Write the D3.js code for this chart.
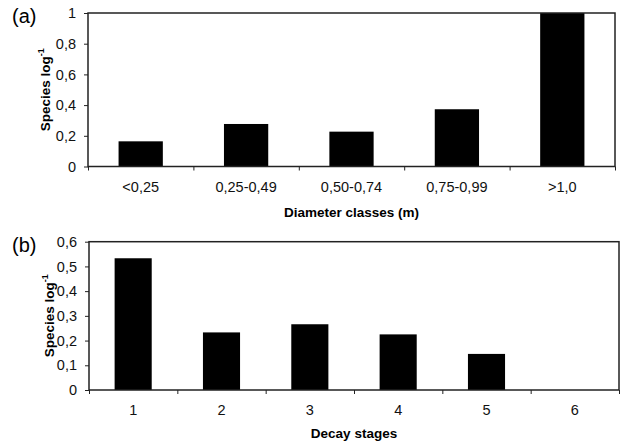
<!DOCTYPE html>
<html>
<head>
<meta charset="utf-8">
<script src="https://cdn.jsdelivr.net/npm/d3@7"></script>
<style>
  body { margin: 0; background: #fff; }
  svg { display: block; font-family: "Liberation Sans", Arial, sans-serif; }
  .tick text { font-size: 14.5px; fill: #111; }
  .domain { display: none; }
  .tick line { stroke: #222; stroke-width: 1; }
</style>
</head>
<body>
<script>
// panel (a): species per log by diameter class
const diamClasses = ["<0,25", "0,25-0,49", "0,50-0,74", "0,75-0,99", ">1,0"];
const diamValues = [0.164, 0.277, 0.227, 0.373, 1.0];
const diamTicks = [0, 0.2, 0.4, 0.6, 0.8, 1];

// panel (b): species per log by decay stage
const decayStages = ["1", "2", "3", "4", "5", "6"];
const decayValues = [0.533, 0.233, 0.266, 0.225, 0.146, 0];
const decayTicks = [0, 0.1, 0.2, 0.3, 0.4, 0.5, 0.6];

const W = 621, H = 443;
const svg = d3.select("body").append("svg").attr("width", W).attr("height", H);

const fmt = d => String(+d.toFixed(2)).replace(".", ",");

function panel(opt) {
  const g = svg.append("g");
  const x = d3.scaleBand().domain(opt.cats)
    .range([opt.left, opt.right]).paddingInner(0.58).paddingOuter(0.29);
  const xb = d3.scaleLinear().domain([0, opt.cats.length]).range([opt.left, opt.right]);
  const y = d3.scaleLinear().domain([0, opt.max]).range([opt.bottom, opt.top]);

  // bars
  g.selectAll("rect.bar").data(opt.vals).enter().append("rect")
    .attr("class", "bar")
    .attr("x", (d, i) => x(opt.cats[i]))
    .attr("width", x.bandwidth())
    .attr("y", d => y(d))
    .attr("height", d => y(0) - y(d))
    .attr("fill", "#000");

  // frame
  g.append("rect")
    .attr("x", opt.left).attr("y", opt.top)
    .attr("width", opt.right - opt.left).attr("height", opt.bottom - opt.top)
    .attr("fill", "none").attr("stroke", "#222").attr("stroke-width", 1.5);

  // y axis
  g.append("g").attr("transform", `translate(${opt.left},0)`)
    .call(d3.axisLeft(y).tickValues(opt.ticks).tickFormat(fmt).tickSize(4).tickPadding(8));

  // x tick marks at category boundaries
  g.append("g").attr("transform", `translate(0,${opt.bottom})`)
    .call(d3.axisBottom(xb).tickValues(d3.range(opt.cats.length + 1)).tickFormat("").tickSize(4));

  // x labels
  g.append("g").attr("transform", `translate(0,${opt.bottom})`)
    .call(d3.axisBottom(x).tickSize(0).tickPadding(15));

  // axis titles
  g.append("text")
    .attr("x", (opt.left + opt.right) / 2).attr("y", opt.xTitleY)
    .attr("text-anchor", "middle")
    .attr("font-size", 13.5).attr("font-weight", "bold")
    .text(opt.xTitle);

  const yt = g.append("text")
    .attr("transform", `translate(${opt.yTitleX},${(opt.top + opt.bottom) / 2}) rotate(-90)`)
    .attr("text-anchor", "middle")
    .attr("font-size", 13.5).attr("font-weight", "bold");
  yt.append("tspan").text("Species log");
  yt.append("tspan").attr("dy", -6).attr("font-size", 9).text("-1");

  // panel letter
  g.append("text")
    .attr("x", 12).attr("y", opt.letterY)
    .attr("font-size", 20)
    .text(opt.letter);
}

panel({
  cats: diamClasses, vals: diamValues, ticks: diamTicks, max: 1,
  left: 88, right: 615, top: 13, bottom: 166.5,
  xTitle: "Diameter classes (m)", xTitleY: 217, yTitleX: 50,
  letter: "(a)", letterY: 23
});

panel({
  cats: decayStages, vals: decayValues, ticks: decayTicks, max: 0.6,
  left: 89, right: 619, top: 241.7, bottom: 390,
  xTitle: "Decay stages", xTitleY: 438, yTitleX: 54,
  letter: "(b)", letterY: 252
});
</script>
</body>
</html>
